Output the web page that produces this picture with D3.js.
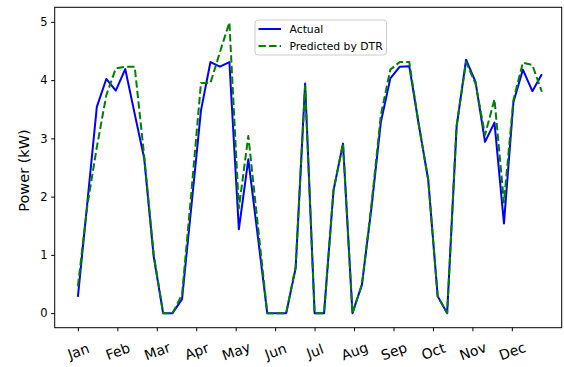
<!DOCTYPE html>
<html>
<head>
<meta charset="utf-8">
<script src="https://cdn.jsdelivr.net/npm/d3@7/dist/d3.min.js"></script>
<style>
  html, body { margin: 0; padding: 0; background: #fff; }
  svg { display: block; font-family: "DejaVu Sans", sans-serif; }
</style>
</head>
<body>
<svg id="chart" width="564" height="367"></svg>
<script>
// Monthly tick labels along the x axis
const months = ["Jan", "Feb", "Mar", "Apr", "May", "Jun", "Jul", "Aug", "Sep", "Oct", "Nov", "Dec"];

// Measured power (kW), one value per sample
const actual = [
  0.28, 1.90, 3.54, 4.02, 3.82, 4.19, 3.42, 2.66, 0.98, 0.00,
  0.00, 0.24, 1.86, 3.48, 4.31, 4.23, 4.31, 1.44, 2.64, 1.32,
  0.00, 0.00, 0.00, 0.77, 3.94, 0.00, 0.00, 2.11, 2.91, 0.00,
  0.49, 1.80, 3.28, 4.03, 4.23, 4.24, 3.24, 2.29, 0.29, 0.00,
  3.20, 4.35, 3.97, 2.94, 3.27, 1.54, 3.62, 4.18, 3.81, 4.10
];

// Decision-tree regression prediction (kW)
const predicted = [
  0.46, 1.85, 2.85, 3.74, 4.20, 4.23, 4.23, 2.70, 1.02, 0.00,
  0.00, 0.32, 2.10, 3.95, 3.95, 4.48, 4.99, 1.80, 3.04, 1.52,
  0.00, 0.00, 0.00, 0.80, 3.90, 0.00, 0.00, 2.11, 2.91, 0.00,
  0.49, 1.85, 3.40, 4.18, 4.31, 4.31, 3.24, 2.29, 0.29, 0.00,
  3.22, 4.31, 3.94, 3.06, 3.67, 1.90, 3.66, 4.30, 4.26, 3.80
];

const yTicks = [0, 1, 2, 3, 4, 5];

const svg = d3.select("#chart");
const plot = { left: 54.7, right: 561.7, top: 7.3, bottom: 327.7 };

const n = actual.length;
const x = d3.scaleLinear().domain([-2.45, 51.1]).range([plot.left, plot.right]);
const y = d3.scaleLinear().domain([-0.25, 5.25]).range([plot.bottom, plot.top]);

// month ticks spread evenly over the sample range
const monthPos = months.map((m, k) => k * n / 12);

// Lines
const line = d3.line().x((d, i) => x(i)).y(d => y(d));

svg.append("path")
  .datum(actual)
  .attr("d", line)
  .attr("fill", "none")
  .attr("stroke", "#0000ff")
  .attr("stroke-width", 2)
  .attr("stroke-linejoin", "round");

svg.append("path")
  .datum(predicted)
  .attr("d", line)
  .attr("fill", "none")
  .attr("stroke", "#008000")
  .attr("stroke-width", 2)
  .attr("stroke-dasharray", "7.4,3.2")
  .attr("stroke-linejoin", "round");

// Frame
svg.append("rect")
  .attr("x", plot.left).attr("y", plot.top)
  .attr("width", plot.right - plot.left)
  .attr("height", plot.bottom - plot.top)
  .attr("fill", "none")
  .attr("stroke", "#000")
  .attr("stroke-width", 1);

// Y axis
const yAxis = svg.append("g")
  .attr("transform", `translate(${plot.left},0)`)
  .call(d3.axisLeft(y).tickValues(yTicks).tickFormat(d3.format("d")).tickSize(3.5).tickPadding(3.5));
yAxis.select(".domain").remove();
yAxis.selectAll(".tick line").attr("stroke", "#000").attr("stroke-width", 1);
yAxis.selectAll(".tick text")
  .attr("fill", "#000")
  .style("font-size", "11.5px")
  .style("font-family", "DejaVu Sans, sans-serif");

// X axis
const xAxis = svg.append("g")
  .attr("transform", `translate(0,${plot.bottom})`)
  .call(d3.axisBottom(x).tickValues(monthPos).tickFormat((d, k) => months[k]).tickSize(3.5));
xAxis.select(".domain").remove();
xAxis.selectAll(".tick line").attr("stroke", "#000").attr("stroke-width", 1);
xAxis.selectAll(".tick text")
  .attr("fill", "#000")
  .attr("y", 0)
  .attr("dy", null)
  .attr("text-anchor", "middle")
  .attr("dominant-baseline", "central")
  .attr("transform", "translate(0,23.5) rotate(-20)")
  .style("font-size", "14px")
  .style("font-family", "DejaVu Sans, sans-serif");

// Y axis title
svg.append("text")
  .attr("transform", `translate(24,${(plot.top + plot.bottom) / 2 + 3}) rotate(-90)`)
  .attr("text-anchor", "middle")
  .attr("dominant-baseline", "central")
  .attr("fill", "#000")
  .style("font-size", "14.5px")
  .text("Power (kW)");

// Legend
const legend = svg.append("g");
legend.append("rect")
  .attr("x", 255).attr("y", 20)
  .attr("width", 131.5).attr("height", 35)
  .attr("rx", 3)
  .attr("fill", "#fff").attr("fill-opacity", 0.8)
  .attr("stroke", "#cccccc").attr("stroke-width", 1);

const items = [
  { label: "Actual", color: "#0000ff", dash: null, y: 29 },
  { label: "Predicted by DTR", color: "#008000", dash: "7.4,3.2", y: 46 }
];
items.forEach(it => {
  legend.append("line")
    .attr("x1", 258.5).attr("x2", 281)
    .attr("y1", it.y).attr("y2", it.y)
    .attr("stroke", it.color).attr("stroke-width", 2)
    .attr("stroke-dasharray", it.dash);
  legend.append("text")
    .attr("x", 289.5).attr("y", it.y)
    .attr("dominant-baseline", "central")
    .attr("fill", "#000")
    .style("font-size", "10.8px")
    .text(it.label);
});
</script>
</body>
</html>
